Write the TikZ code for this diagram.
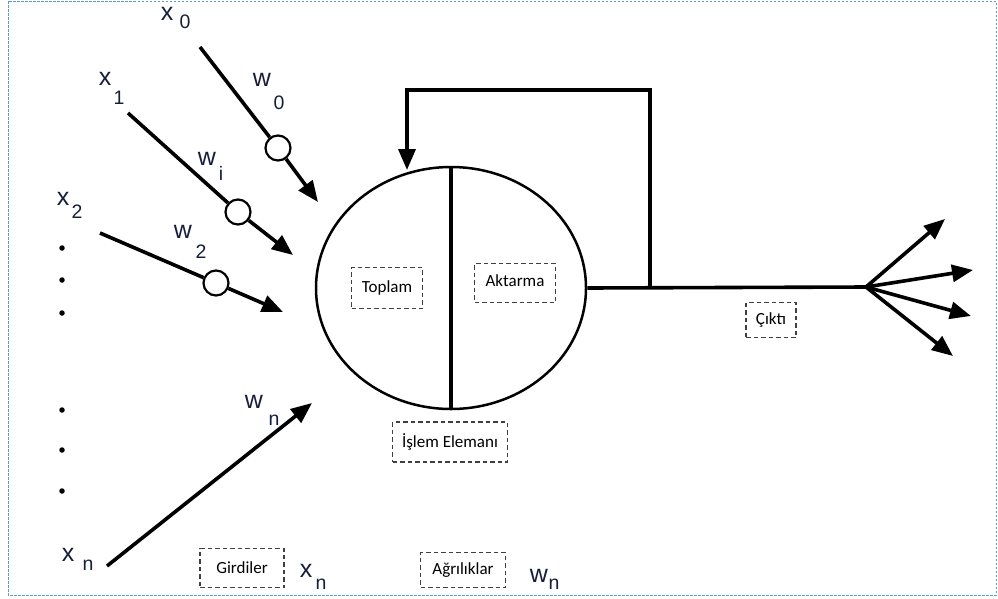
\documentclass[tikz,border=0pt]{standalone}
\usepackage{fontspec}
\setmainfont{Carlito}
\newfontfamily\lblfont{Liberation Sans}
\usetikzlibrary{shapes.geometric,arrows.meta}
\definecolor{framecol}{RGB}{91,155,213}
\definecolor{labelcol}{RGB}{22,30,58}
\tikzset{
  thickline/.style={line width=3.6pt},
  arrowline/.style={thickline,-{Triangle[length=21pt,width=17pt]}},
  weightc/.style={circle,draw,fill=white,line width=2.2pt,minimum size=25pt,inner sep=0pt},
  dashbox/.style={draw=black!75,dashed,line width=1.1pt,dash pattern=on 4.5pt off 3pt,
    inner xsep=5pt,inner ysep=0pt,font=\fontsize{17}{19}\selectfont},
  bigl/.style={text=labelcol,font=\lblfont\fontsize{25}{26}\selectfont,inner sep=0pt},
  subl/.style={text=labelcol,font=\lblfont\fontsize{19.5}{20}\selectfont,inner sep=0pt},
  dotn/.style={circle,fill=black,minimum size=5.5pt,inner sep=0pt}
}
\begin{document}
\begin{tikzpicture}[x=1pt,y=-1pt]
\useasboundingbox (0,0) rectangle (998,598);
\draw[framecol,line width=1pt,dash pattern=on 2.5pt off 1.5pt] (8,1) rectangle (996,595);

% processing element
\node[ellipse,draw,line width=2.5pt,minimum width=270pt,minimum height=242pt,inner sep=0pt] (pe) at (451,288) {};
\draw[thickline] (pe.north) -- (pe.south);
\node[dashbox,minimum width=71pt,minimum height=41pt] (toplam) at (387,288) {Toplam};
\node[dashbox,minimum width=81pt,minimum height=39pt] (aktarma) at (515,283) {\raisebox{5pt}{Aktarma}};
\node[dashbox,minimum width=115pt,minimum height=40pt] (islem) at (450,442) {İşlem Elemanı};

% inputs
\coordinate (x0s) at (200,47);  \coordinate (x0e) at (318,202);
\coordinate (x1s) at (128,113); \coordinate (x1e) at (293,255);
\coordinate (x2s) at (100,233); \coordinate (x2e) at (283,312);
\coordinate (xns) at (107,566); \coordinate (xne) at (312,403);
\node[weightc] (c0) at (278,148) {};
\node[weightc] (c1) at (238,212) {};
\node[weightc] (c2) at (216,283) {};
\draw[thickline] (x0s) -- (c0);
\draw[arrowline] (c0) -- (x0e);
\draw[thickline] (x1s) -- (c1);
\draw[arrowline] (c1) -- (x1e);
\draw[thickline] (x2s) -- (c2);
\draw[arrowline] (c2) -- (x2e);
\draw[arrowline] (xns) -- (xne);

\node[bigl] (lx0) at (167,14) {x};  \node[subl] (lx0s) at (185,22) {0};
\node[bigl] (lx1) at (105,79) {x};  \node[subl] (lx1s) at (119,98) {1};
\node[bigl] (lx2) at (63,199) {x};  \node[subl] (lx2s) at (77,212) {2};
\node[bigl] (lxn) at (68,555) {x};  \node[subl] (lxns) at (88,565) {n};
\node[bigl] (lw0) at (262,80) {w};  \node[subl] (lw0s) at (279,103) {0};
\node[bigl] (lwi) at (207,159) {w}; \node[subl] (lwis) at (221,173) {i};
\node[bigl] (lw2) at (183,232) {w}; \node[subl] (lw2s) at (201,252) {2};
\node[bigl] (lwn) at (254,402) {w}; \node[subl] (lwns) at (274,420) {n};

\foreach \dy [count=\k] in {248,280,313,410,450,491}
  \node[dotn] (dot\k) at (62,\dy) {};

% output and feedback
\coordinate (fan) at (866,287);
\coordinate (fb) at (650,287);
\coordinate (fbtr) at (650,90);
\coordinate (fbtl) at (407,90);
\coordinate (fbin) at (407,170);
\draw[thickline] (pe.east) -- (fan);
\draw[thickline,line join=miter] (fb) -- (fbtr) -- (fbtl) -- ++(0,20);
\draw[arrowline] (fbtl) -- (fbin);
\coordinate (o1) at (945,219);
\coordinate (o2) at (973,270);
\coordinate (o3) at (971,316);
\coordinate (o4) at (953,356);
\foreach \o in {o1,o2,o3,o4}
  \draw[arrowline] (fan) -- (\o);
\node[dashbox,minimum width=50pt,minimum height=35pt] (cikti) at (771,320) {Çıktı};

% bottom labels
\node[dashbox,minimum width=84pt,minimum height=39pt] (girdiler) at (242,568) {Girdiler};
\node[bigl] (bx) at (306,571) {x}; \node[subl] (bxs) at (321,584) {n};
\node[dashbox,minimum width=85pt,minimum height=35pt] (agirlik) at (463,570) {Ağrılıklar};
\node[bigl] (bw) at (539,576) {w}; \node[subl] (bws) at (554,584) {n};
\end{tikzpicture}
\end{document}
